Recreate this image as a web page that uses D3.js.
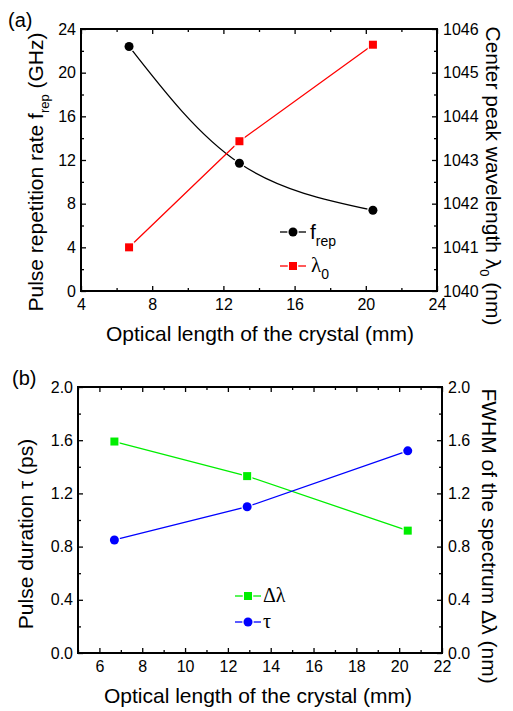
<!DOCTYPE html>
<html>
<head>
<meta charset="utf-8">
<script src="https://cdn.jsdelivr.net/npm/d3@7"></script>
<style>
  body { margin: 0; background: #fff; }
  svg text { font-family: "Liberation Sans", Arial, sans-serif; fill: #000; }
</style>
</head>
<body>
<div id="chart"></div>
<script>
// data
let crystalLen = [6.7, 12.9, 20.4];
let fRep = [22.4, 11.7, 7.4];            // GHz, left axis (a)
let lambda0 = [1041.0, 1043.43, 1045.64]; // nm, right axis (a)
let dLambda = [1.59, 1.33, 0.92];        // nm (b)
let tau = [0.85, 1.10, 1.52];            // ps (b)

let xTicksA = [4, 8, 12, 16, 20, 24];
let yTicksA = [0, 4, 8, 12, 16, 20, 24];
let yTicksAR = [1040, 1041, 1042, 1043, 1044, 1045, 1046];
let xTicksB = [6, 8, 10, 12, 14, 16, 18, 20, 22];
let yTicksB = [0, 0.4, 0.8, 1.2, 1.6, 2.0];

let W = 513, H = 711;

let svg = d3.select('#chart').
append('svg').
attr('width', W).
attr('height', H);

// draws frame + inward ticks (major and minor) for one panel
function frame(x, yL, yR, xt, xMinor, ylt, ylMinor, yrt, yrMinor, yFmt, yrFmt) {
  let x0 = x.range()[0], x1 = x.range()[1];
  let y0 = yL.range()[0], y1 = yL.range()[1];
  let g = svg.append('g');

  // [axis, transform, minor?, padding]
  let axes = [
  [d3.axisBottom(x).tickValues(xt).tickFormat(d3.format('d')), 'translate(0,' + y0 + ')', false, 8],
  [d3.axisBottom(x).tickValues(xMinor).tickFormat(''), 'translate(0,' + y0 + ')', true, 4],
  [d3.axisTop(x).tickValues(xt).tickFormat(''), 'translate(0,' + y1 + ')', false, 4],
  [d3.axisTop(x).tickValues(xMinor).tickFormat(''), 'translate(0,' + y1 + ')', true, 4],
  [d3.axisLeft(yL).tickValues(ylt).tickFormat(yFmt), 'translate(' + x0 + ',0)', false, 5],
  [d3.axisLeft(yL).tickValues(ylMinor).tickFormat(''), 'translate(' + x0 + ',0)', true, 4],
  [d3.axisRight(yR).tickValues(yrt).tickFormat(yrFmt), 'translate(' + x1 + ',0)', false, 6],
  [d3.axisRight(yR).tickValues(yrMinor).tickFormat(''), 'translate(' + x1 + ',0)', true, 4]];

  axes.forEach(function (a) {
    let ax = a[0].tickSize(a[2] ? -3 : -5).tickPadding(a[3]);
    let s = g.append('g').attr('transform', a[1]).call(ax);
    s.select('.domain').remove();
    s.selectAll('line').attr('stroke', '#000').attr('stroke-width', 1.3);
    s.selectAll('text').style('font-size', '16px').attr('fill', '#000');
  });

  g.append('rect').
  attr('x', x0).
  attr('y', y1).
  attr('width', x1 - x0).
  attr('height', y0 - y1).
  attr('fill', 'none').
  attr('stroke', '#000').
  attr('stroke-width', 2);
  return g;
}

function series(x, y, vals, color, shape, curve) {
  let pts = crystalLen.map((d, i) => [x(d), y(vals[i])]);
  svg.append('path').
  attr('d', d3.line().curve(curve)(pts)).
  attr('fill', 'none').
  attr('stroke', color).
  attr('stroke-width', 1.3);
  markers(pts, color, shape);
}

function markers(pts, color, shape) {
  let g = svg.append('g');
  pts.forEach(function (p) {
    if (shape === 'circle') {
      g.append('circle').attr('cx', p[0]).attr('cy', p[1]).attr('r', 4.5).
      attr('fill', color).attr('stroke', '#fff').attr('stroke-width', 2.5).attr('paint-order', 'stroke');
    } else {
      g.append('rect').attr('x', p[0] - 4).attr('y', p[1] - 4).attr('width', 8).attr('height', 8).
      attr('fill', color).attr('stroke', '#fff').attr('stroke-width', 2.5).attr('paint-order', 'stroke');
    }
  });
}

function legendItem(x, y, color, shape) {
  svg.append('line').
  attr('x1', x - 13).attr('x2', x + 13).
  attr('y1', y).attr('y2', y).
  attr('stroke', color).attr('stroke-width', 1.3);
  markers([[x, y]], color, shape);
}

// ---------- panel (a)
let xA = d3.scaleLinear().domain([4, 24]).range([81, 437]);
let yA = d3.scaleLinear().domain([0, 24]).range([291, 29]);
let yAR = d3.scaleLinear().domain([1040, 1046]).range([291, 29]);

frame(xA, yA, yAR, xTicksA, d3.range(6, 24, 4), yTicksA, d3.range(2, 24, 4),
yTicksAR, d3.range(1040.5, 1046, 1), d3.format('d'), d3.format('d'));

series(xA, yA, fRep, '#000', 'circle', d3.curveNatural);
series(xA, yAR, lambda0, '#ff0000', 'square', d3.curveLinear);

legendItem(293, 232, '#000', 'circle');
legendItem(293, 266, '#ff0000', 'square');

let tf = svg.append('text').attr('x', 310).attr('y', 239).style('font-size', '21px');
tf.append('tspan').text('f');
tf.append('tspan').attr('dy', 7).style('font-size', '14px').text('rep');

let tl = svg.append('text').attr('x', 311).attr('y', 272).
style('font-family', '"Liberation Serif", serif').style('font-size', '21px');
tl.append('tspan').text('λ');
tl.append('tspan').attr('dy', 7).style('font-size', '14px').
style('font-family', '"Liberation Sans", sans-serif').text('0');

svg.append('text').attr('x', 8).attr('y', 27).style('font-size', '20px').text('(a)');

svg.append('text').
attr('x', 260).attr('y', 341).
attr('text-anchor', 'middle').
style('font-size', '21px').
text('Optical length of the crystal (mm)');

let la = svg.append('text').
attr('transform', 'translate(43,172) rotate(-90)').
attr('text-anchor', 'middle').
style('font-size', '21px');
la.append('tspan').text('Pulse repetition rate f');
la.append('tspan').attr('dy', 6).style('font-size', '13px').text('rep');
la.append('tspan').attr('dy', -6).text(' (GHz)');

let ra = svg.append('text').
attr('transform', 'translate(486,176) rotate(90)').
attr('text-anchor', 'middle').
style('font-size', '21px');
ra.append('tspan').text('Center peak wavelength λ');
ra.append('tspan').attr('dy', 6).style('font-size', '13px').text('0');
ra.append('tspan').attr('dy', -6).text(' (nm)');

// ---------- panel (b)
let xB = d3.scaleLinear().domain([5, 22]).range([78, 442]);
let yB = d3.scaleLinear().domain([0, 2]).range([653, 387]);

frame(xB, yB, yB, xTicksB, d3.range(5, 22, 2), yTicksB, d3.range(0.2, 2, 0.4),
yTicksB, d3.range(0.2, 2, 0.4), d3.format('.1f'), d3.format('.1f'));

series(xB, yB, dLambda, '#00ee00', 'square', d3.curveLinear);
series(xB, yB, tau, '#0000ff', 'circle', d3.curveLinear);

legendItem(248, 596, '#00ee00', 'square');
legendItem(248, 622, '#0000ff', 'circle');

svg.append('text').attr('x', 263).attr('y', 602).
style('font-family', '"Liberation Serif", serif').style('font-size', '20px').text('Δλ');
svg.append('text').attr('x', 263).attr('y', 628).
style('font-family', '"Liberation Serif", serif').style('font-size', '20px').text('τ');

svg.append('text').attr('x', 12).attr('y', 385).style('font-size', '20px').text('(b)');

svg.append('text').
attr('x', 258).attr('y', 703).
attr('text-anchor', 'middle').
style('font-size', '21px').
text('Optical length of the crystal (mm)');

svg.append('text').
attr('transform', 'translate(33,534) rotate(-90)').
attr('text-anchor', 'middle').
style('font-size', '21px').
text('Pulse duration τ (ps)');

svg.append('text').
attr('transform', 'translate(482,536) rotate(90)').
attr('text-anchor', 'middle').
style('font-size', '21px').
text('FWHM of the spectrum Δλ (nm)');
</script>
</body>
</html>
